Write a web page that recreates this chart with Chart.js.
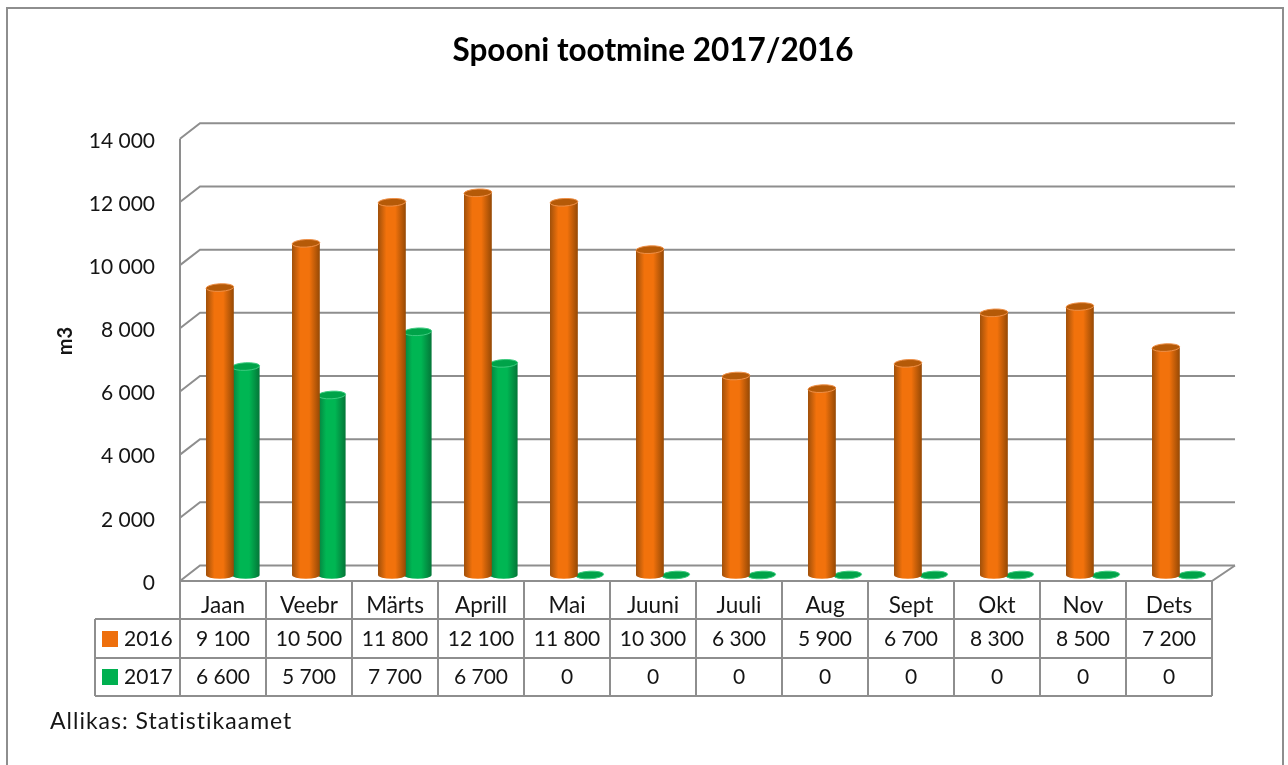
<!DOCTYPE html>
<html>
<head>
<meta charset="utf-8">
<script src="https://cdn.jsdelivr.net/npm/chart.js@4"></script>
<style>
  body { margin: 0; background: #fff; }
  canvas { display: block; }
</style>
</head>
<body>
<canvas id="grafico" width="1288" height="765"></canvas>
<script>
const kuud = ["Jaan", "Veebr", "Märts", "Aprill", "Mai", "Juuni", "Juuli", "Aug", "Sept", "Okt", "Nov", "Dets"];
const aasta2016 = [9100, 10500, 11800, 12100, 11800, 10300, 6300, 5900, 6700, 8300, 8500, 7200];
const aasta2017 = [6600, 5700, 7700, 6700, 0, 0, 0, 0, 0, 0, 0, 0];
const pealkiri = "Spooni tootmine 2017/2016";
const allikas = "Allikas: Statistikaamet";

const fontName = "Lato, Carlito, sans-serif";
const textColor = "#151515";
const lineColor = "#8e8e8e";

const tuhanded = (v) => String(v).replace(/\B(?=(\d{3})+$)/g, " ");

// how the 3d look is faked: front lines sit 2px above the scale (tick labels are lower
// in the picture), back wall is offset from that, bars stand on the floor
const frontY = -2;
const wallX = 20, wallY = -15.5;
const barX = 9.8, barY = -8;

const colors = [
    { edgeL: "#a0500a", mid: "#f2720c", edgeR: "#954905", cap: "#b55a08", rim: "#ee9048" },
    { edgeL: "#067c3d", mid: "#00b653", edgeR: "#047638", cap: "#00a349", rim: "#3ccb7f" }
];

const wallPlugin = {
    id: "wall",
    beforeDatasetsDraw(chart) {
        const { ctx, chartArea: a, scales: { y } } = chart;
        ctx.save();
        // outer frame
        ctx.strokeStyle = lineColor;
        ctx.lineWidth = 2;
        ctx.strokeRect(7, 8, 1276, 800);

        y.ticks.forEach(t => {
            const py = y.getPixelForValue(t.value) + frontY;
            ctx.beginPath();
            ctx.moveTo(a.left, py);
            ctx.lineTo(a.left + wallX, py + wallY);
            ctx.lineTo(a.right + 23, py + wallY);
            ctx.stroke();
        });
        ctx.beginPath();
        ctx.moveTo(a.left, a.top + frontY);
        ctx.lineTo(a.left, a.bottom + frontY);
        ctx.lineTo(a.right, a.bottom + frontY);
        ctx.lineTo(a.right + 23, a.bottom + frontY + wallY);
        ctx.stroke();
        ctx.restore();
    },
    beforeDatasetDraw(chart) {
        chart.ctx.save();
        chart.ctx.translate(barX, barY);
    },
    afterDatasetDraw(chart, args) {
        const ctx = chart.ctx;
        const c = colors[args.index];
        chart.getDatasetMeta(args.index).data.forEach(bar => {
            const r = bar.width / 2 + 1;
            const left = bar.x - r, right = bar.x + r;
            const ry = 3.8, tilt = -0.05;
            if (bar.base - bar.y > 1) {
                const g = ctx.createLinearGradient(left, 0, right, 0);
                g.addColorStop(0, c.edgeL);
                g.addColorStop(0.3, c.mid);
                g.addColorStop(0.62, c.mid);
                g.addColorStop(1, c.edgeR);
                ctx.fillStyle = g;
                ctx.beginPath();
                ctx.moveTo(left, bar.y);
                ctx.lineTo(right, bar.y);
                ctx.lineTo(right, bar.base);
                ctx.ellipse(bar.x, bar.base, r, ry, 0, 0, Math.PI);
                ctx.closePath();
                ctx.fill();
            }
            ctx.beginPath();
            ctx.ellipse(bar.x, bar.y, r, ry, tilt, 0, Math.PI * 2);
            ctx.fillStyle = c.cap;
            ctx.fill();
            ctx.strokeStyle = c.rim;
            ctx.lineWidth = 1;
            ctx.stroke();
        });
        ctx.restore();
    }
};

const tablePlugin = {
    id: "andmetabel",
    afterDraw(chart) {
        const { ctx, chartArea: a, scales: { x } } = chart;
        const rows = [619, 658, 696];
        const colW = (a.right - a.left) / kuud.length;
        ctx.save();
        ctx.strokeStyle = lineColor;
        ctx.lineWidth = 2;
        rows.forEach(r => {
            ctx.beginPath();
            ctx.moveTo(95, r);
            ctx.lineTo(a.right, r);
            ctx.stroke();
        });
        ctx.beginPath();
        ctx.moveTo(95, rows[0]);
        ctx.lineTo(95, rows[2]);
        ctx.stroke();
        for (let i = 0; i <= kuud.length; i++) {
            ctx.beginPath();
            ctx.moveTo(a.left + i * colW, a.bottom + frontY);
            ctx.lineTo(a.left + i * colW, rows[2]);
            ctx.stroke();
        }

        ctx.font = "21px " + fontName;
        ctx.fillStyle = textColor;
        ctx.textBaseline = "middle";
        ctx.textAlign = "center";
        kuud.forEach((k, i) => {
            ctx.fillText(tuhanded(aasta2016[i]), x.getPixelForValue(i), 639);
            ctx.fillText(tuhanded(aasta2017[i]), x.getPixelForValue(i), 677);
        });

        // legend keys live in the table
        ctx.textAlign = "left";
        chart.data.datasets.forEach((d, i) => {
            const rowY = i === 0 ? 639 : 677;
            ctx.fillStyle = d.backgroundColor;
            ctx.fillRect(102, rowY - 8, 16, 16);
            ctx.fillStyle = textColor;
            ctx.fillText(d.label, 124, rowY);
        });

        ctx.save();
        ctx.font = "23px " + fontName;
        ctx.letterSpacing = "1px";
        ctx.fillText(allikas, 50, 722);
        ctx.restore();

        ctx.font = "bold 20px " + fontName;
        ctx.textAlign = "center";
        ctx.translate(66, 341);
        ctx.rotate(-Math.PI / 2);
        ctx.fillText("m3", 0, 0);
        ctx.restore();
    }
};

new Chart(document.getElementById("grafico").getContext("2d"), {
    type: "bar",
    data: {
        labels: kuud,
        datasets: [
            { label: "2016", data: aasta2016, backgroundColor: "#ee6f0c" },
            { label: "2017", data: aasta2017, backgroundColor: "#00b050" }
        ]
    },
    options: {
        responsive: false,
        animation: false,
        layout: { padding: { left: 18, right: 0, top: 0, bottom: 0 } },
        datasets: { bar: { categoryPercentage: 0.6, barPercentage: 1 } },
        plugins: {
            legend: { display: false },
            tooltip: { enabled: false },
            title: {
                display: true,
                text: pealkiri,
                color: "#000",
                font: { family: fontName, size: 31.5, weight: "bold", lineHeight: 1.2 },
                padding: { top: 32, bottom: 71 }
            }
        },
        scales: {
            x: {
                grid: { display: false, drawTicks: false },
                border: { display: false },
                ticks: {
                    color: textColor,
                    font: { family: fontName, size: 22.5 },
                    padding: 9,
                    maxRotation: 0,
                    autoSkip: false
                },
                afterFit(s) { s.height = 182; }
            },
            y: {
                min: 0,
                max: 14000,
                grid: { display: false, drawTicks: false },
                border: { display: false },
                ticks: {
                    stepSize: 2000,
                    color: textColor,
                    font: { family: fontName, size: 21 },
                    padding: 25,
                    callback: (v) => tuhanded(v)
                },
                afterFit(s) { s.width = 162; }
            },
            // empty axis only to keep room right of the table, so the title centres like the original
            paremale: {
                position: "right",
                grid: { display: false, drawTicks: false },
                border: { display: false },
                ticks: { display: false },
                afterFit(s) { s.width = 76; }
            }
        }
    },
    plugins: [wallPlugin, tablePlugin]
});
</script>
</body>
</html>
